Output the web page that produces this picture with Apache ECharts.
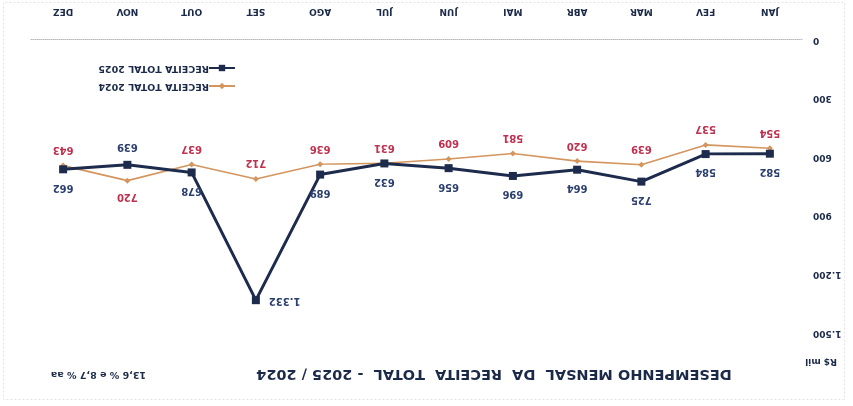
<!DOCTYPE html>
<html><head><meta charset="utf-8">
<script src="https://cdn.jsdelivr.net/npm/echarts@6/dist/echarts.min.js"></script>
<style>
html,body{margin:0;padding:0;background:#fff;}
#c{width:853px;height:406px;transform:rotate(180deg);transform-origin:50% 50%;}
</style></head>
<body><div id="c"></div>
<script>
const categories = ['JAN','FEV','MAR','ABR','MAI','JUN','JUL','AGO','SET','OUT','NOV','DEZ'];
const receita2025 = [582, 584, 725, 664, 696, 656, 632, 689, 1332, 678, 639, 662];
const receita2024 = [554, 537, 639, 620, 581, 609, 631, 636, 712, 637, 720, 643];
const yTicks = [0, 300, 600, 900, 1200, 1500];
const pos2025 = ['top','top','top','top','top','top','top','top','left','top','bottom','top'];
const pos2024 = ['bottom','bottom','bottom','bottom','bottom','bottom','bottom','bottom','bottom','bottom','top','bottom'];

const fmt = v => v.toLocaleString('de-DE');
const font = '"DejaVu Sans", sans-serif';

const chart = echarts.init(document.getElementById('c'), null, {renderer:'canvas'});
chart.setOption({
  backgroundColor:'#ffffff',
  animation:false,
  title:{
    text:'DESEMPENHO MENSAL  DA  RECEITA  TOTAL  - 2025 / 2024',
    left:354, top:20, textAlign:'center',
    textStyle:{fontFamily:font, fontSize:14.5, fontWeight:'bold', color:'#1c2a4a'}
  },
  graphic:[
    {type:'text', left:16, top:40, style:{text:'R$ mil', font:'bold 9px '+font, fill:'#1c2a4a'}},
    {type:'text', left:707, top:27, style:{text:'13,6 % e 8,7 % aa', font:'bold 9.5px '+font, fill:'#1c2a4a'}},
    {type:'rect', left:6, top:4, shape:{width:841, height:397}, style:{fill:'none', stroke:'#e2e2e8', lineWidth:1, lineDash:[2,2]}}
  ],
  legend:{
    orient:'vertical', left:612, top:310, itemGap:8, itemWidth:26, itemHeight:8,
    textStyle:{fontFamily:font, fontSize:9.5, fontWeight:'bold', color:'#1c2a4a', padding:[0,0,0,-5]},
    data:['RECEITA TOTAL 2024','RECEITA TOTAL 2025']
  },
  grid:{left:51, right:31, top:73, bottom:40},
  xAxis:{
    type:'category', data:categories, boundaryGap:true,
    axisLine:{lineStyle:{color:'#b8b8c0', type:'dotted', width:1}},
    axisTick:{show:false},
    axisLabel:{margin:24, fontFamily:font, fontSize:9, fontWeight:'bold', color:'#1c2a4a'}
  },
  yAxis:{
    type:'value', min:0, max:1500, interval:300,
    axisLine:{show:false}, axisTick:{show:false},
    splitLine:{show:false},
    axisLabel:{margin:11, fontFamily:font, fontSize:9, fontWeight:'bold', color:'#1c2a4a',
      formatter: v => yTicks.includes(v) ? fmt(v) : ''}
  },
  series:[
    {
      name:'RECEITA TOTAL 2025', type:'line', z:3,
      data: receita2025.map((v,i)=>({value:v, label:{position:pos2025[i]}})),
      symbol:'rect', symbolSize:8,
      lineStyle:{color:'#1d2b4c', width:3},
      itemStyle:{color:'#1d2b4c'},
      label:{show:true, distance:9, formatter:p=>fmt(p.value), fontFamily:font, fontSize:10, fontWeight:'bold', color:'#2b3f6e'}
    },
    {
      name:'RECEITA TOTAL 2024', type:'line', z:2,
      data: receita2024.map((v,i)=>({value:v, label:{position:pos2024[i]}})),
      symbol:'diamond', symbolSize:6,
      lineStyle:{color:'#d4955e', width:1.6},
      itemStyle:{color:'#d4955e'},
      label:{show:true, distance:8, formatter:p=>fmt(p.value), fontFamily:font, fontSize:10, fontWeight:'bold', color:'#c0304f'}
    }
  ]
});
</script></body></html>
